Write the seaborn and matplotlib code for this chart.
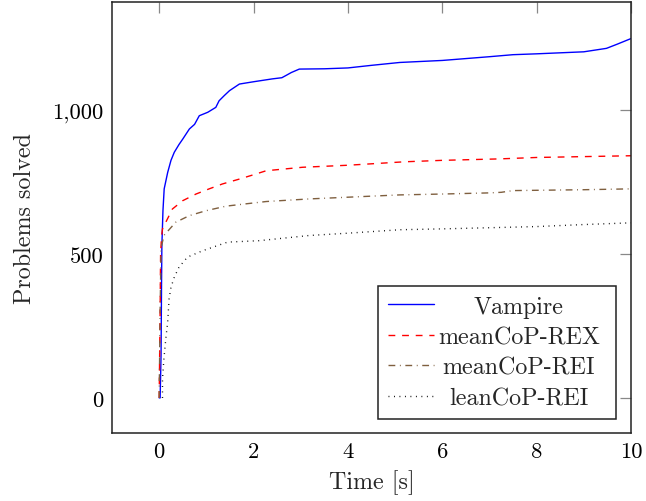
import numpy as np
import pandas as pd
import matplotlib
matplotlib.use("Agg")
import matplotlib.pyplot as plt
from matplotlib.ticker import FixedLocator, FuncFormatter
import seaborn as sns

# ---- data ----
series_names = ["Vampire", "meanCoP-REX", "meanCoP-REI", "leanCoP-REI"]

vampire_x = [0.0, 0.02, 0.04, 0.05, 0.057, 0.08, 0.106, 0.18, 0.25, 0.32, 0.42, 0.5, 0.64, 0.75, 0.85,
             1.03, 1.2, 1.27, 1.38, 1.49, 1.7, 2.0, 2.4, 2.6, 2.69, 2.8, 2.97, 3.5, 4.0,
             4.5, 5.1, 6.0, 7.0, 7.5, 8.0, 9.0, 9.48, 9.7, 10.0]
vampire_y = [0, 0, 150, 400, 529, 650, 726, 783, 825, 853, 880, 899, 934, 950, 980,
             992, 1009, 1032, 1050, 1067, 1090, 1098, 1108, 1112, 1120, 1130, 1142, 1143, 1146,
             1155, 1165, 1172, 1185, 1192, 1195, 1202, 1214, 1228, 1248]

rex_x = [0.0, 0.02, 0.03, 0.05, 0.07, 0.28, 0.5, 0.78, 1.06, 1.34, 1.7, 1.98, 2.27,
         3.04, 4.0, 5.2, 6.0, 7.2, 8.0, 9.0, 10.0]
rex_y = [0, 300, 500, 560, 587, 656, 685, 708, 726, 743, 760, 774, 789,
         801, 808, 820, 825, 830, 835, 838, 841]

rei_x = [0.0, 0.02, 0.04, 0.1, 0.35, 0.64, 0.99, 1.42, 1.84, 2.27, 3.18, 4.0, 5.1,
         6.0, 7.0, 7.25, 7.5, 8.0, 9.0, 10.0]
rei_y = [0, 300, 520, 564, 610, 633, 650, 666, 674, 682, 691, 697, 705,
         708, 712, 714, 720, 721, 723, 726]

lean_x = [0.07, 0.07, 0.1, 0.14, 0.18, 0.21, 0.25, 0.32, 0.42, 0.6, 0.92, 1.45, 2.12,
          3.18, 4.0, 5.1, 6.0, 8.0, 9.0, 10.0]
lean_y = [0, 66, 135, 205, 263, 344, 384, 419, 454, 489, 511, 541, 546,
          564, 572, 584, 587, 595, 602, 608]

x_ticks = [0, 2, 4, 6, 8, 10]
y_ticks = [0, 500, 1000]

frames = []
for name, xs, ys in zip(series_names,
                        [vampire_x, rex_x, rei_x, lean_x],
                        [vampire_y, rex_y, rei_y, lean_y]):
    frames.append(pd.DataFrame({"time": xs, "solved": ys, "prover": name}))
df = pd.concat(frames, ignore_index=True)

# ---- style ----
sns.set_style("white")
plt.rcParams["font.family"] = ["cmr10", "DejaVu Serif"]
plt.rcParams["mathtext.fontset"] = "cm"
plt.rcParams["axes.formatter.use_mathtext"] = True
plt.rcParams["axes.unicode_minus"] = False

palette = {"Vampire": "#0000ff", "meanCoP-REX": "#ff0000",
           "meanCoP-REI": "#7f5f3f", "leanCoP-REI": "#000000"}
dashes = {"Vampire": "", "meanCoP-REX": (4.9, 4.9),
          "meanCoP-REI": (4.9, 3.3, 0.65, 3.3), "leanCoP-REI": (0.65, 3.3)}

fig = plt.figure(figsize=(6.46, 5.02), dpi=100)
ax = fig.add_axes([112 / 646, 1 - 434 / 502, (631 - 112) / 646, (434 - 3) / 502])

sns.lineplot(data=df, x="time", y="solved", hue="prover", style="prover",
             hue_order=series_names, style_order=series_names,
             palette=palette, dashes=dashes, estimator=None, sort=False,
             linewidth=1.0, legend=False, ax=ax)

ax.set_xlim(-1, 10)
ax.set_ylim(-122, 1375)
ax.xaxis.set_major_locator(FixedLocator(x_ticks))
ax.yaxis.set_major_locator(FixedLocator(y_ticks))
ax.yaxis.set_major_formatter(FuncFormatter(lambda v, p: f"{int(v):,}"))
ax.xaxis.set_major_formatter(FuncFormatter(lambda v, p: f"{int(v)}"))

ax.tick_params(axis="both", which="major", direction="in", length=8, width=0.9,
               color="#888888", top=True, right=True, labelsize=16.3, pad=6,
               labelcolor="black")
for s in ax.spines.values():
    s.set_visible(True)
    s.set_color("#222222")
    s.set_linewidth(1.1)

FS = 17.3
ax.set_xlabel("Time [s]", fontsize=FS, labelpad=6)
ax.set_ylabel("Problems solved", fontsize=FS, labelpad=12)

handles = ax.get_lines()[:4]
leg = ax.legend(handles, series_names, loc="lower right",
                bbox_to_anchor=((616 - 112) / 519, (434 - 420) / 431),
                borderaxespad=0, fontsize=FS,
                frameon=True, fancybox=False, framealpha=1, edgecolor="#222222",
                handlelength=1.9, handletextpad=0.45,
                labelspacing=0.35, borderpad=0.4)
leg.get_frame().set_linewidth(1.1)

# center the legend texts like pgfplots
fig.canvas.draw()
r = fig.canvas.get_renderer()
texts = leg.get_texts()
ws = [t.get_window_extent(r).width for t in texts]
mw = max(ws)
shift = 6.6
for t, w in zip(texts, ws):
    t.set_x((mw - w) / 2 - shift)

fig.savefig("out.png", dpi=100)
